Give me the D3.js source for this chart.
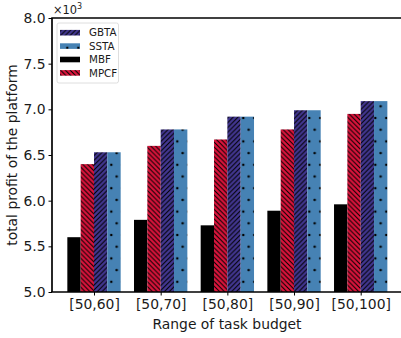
<!DOCTYPE html>
<html>
<head>
<meta charset="utf-8">
<script src="https://cdn.jsdelivr.net/npm/d3@7"></script>
<style>
  html, body { margin: 0; padding: 0; background: #fff; overflow: hidden; }
  svg { display: block; font-family: "DejaVu Sans", sans-serif; }
</style>
</head>
<body>
<svg id="chart" width="401" height="338"></svg>
<script>
// categories and series (values in units of 10^3)
const budgets = ['[50,60]', '[50,70]', '[50,80]', '[50,90]', '[50,100]'];
const mbf = [5.60, 5.79, 5.73, 5.89, 5.96];
const mpcf = [6.40, 6.60, 6.67, 6.78, 6.95];
const gbta = [6.53, 6.78, 6.92, 6.99, 7.09];
const ssta = [6.53, 6.78, 6.92, 6.99, 7.09];
const yTicks = [5.0, 5.5, 6.0, 6.5, 7.0, 7.5, 8.0];

const series = [
    {name: 'MBF', values: mbf, fill: '#000000', pattern: null},
    {name: 'MPCF', values: mpcf, fill: '#dc143c', pattern: 'back'},
    {name: 'GBTA', values: gbta, fill: '#433792', pattern: 'fwd'},
    {name: 'SSTA', values: ssta, fill: '#4682b4', pattern: 'dots'}
];
const legendOrder = ['GBTA', 'SSTA', 'MBF', 'MPCF'];

const svg = d3.select('#chart');
const barW = 0.2;

// plot area ends right at the window edge
const x = d3.scaleLinear().domain([-0.63, 4.63]).range([52, 402.7]);
const y = d3.scaleLinear().domain([5, 8]).range([292, 18]);

// hatch patterns
const defs = svg.append('defs');
const p = 4.8;
function linePattern(id, bg, dir) {
    const pat = defs.append('pattern').attr('id', id)
        .attr('patternUnits', 'userSpaceOnUse').attr('width', p).attr('height', p);
    pat.append('rect').attr('width', p).attr('height', p).attr('fill', bg);
    const d = dir === 'fwd'
        ? `M0,${p} L${p},0 M${-p / 2},${p / 2} L${p / 2},${-p / 2} M${p / 2},${p * 1.5} L${p * 1.5},${p / 2}`
        : `M0,0 L${p},${p} M${-p / 2},${p / 2} L${p / 2},${p * 1.5} M${p / 2},${-p / 2} L${p * 1.5},${p / 2}`;
    pat.append('path').attr('d', d).attr('stroke', '#000').attr('stroke-width', 1.05);
}
linePattern('hatch-back', '#dc143c', 'back');
linePattern('hatch-fwd', '#433792', 'fwd');
const dots = defs.append('pattern').attr('id', 'hatch-dots')
    .attr('patternUnits', 'userSpaceOnUse').attr('width', 11).attr('height', 23.4)
    .attr('x', 1.3).attr('y', 1);
dots.append('rect').attr('width', 11).attr('height', 23.4).attr('fill', '#4682b4');
[[0, 0], [11, 0], [0, 23.4], [11, 23.4], [5.4, 11.7]].forEach(([cx, cy]) => {
    dots.append('circle').attr('cx', cx).attr('cy', cy).attr('r', 1.25).attr('fill', '#000');
});

function fillOf(s) {
    if (s.pattern === 'back') return 'url(#hatch-back)';
    if (s.pattern === 'fwd') return 'url(#hatch-fwd)';
    if (s.pattern === 'dots') return 'url(#hatch-dots)';
    return s.fill;
}

// bars
series.forEach((s, j) => {
    svg.append('g').selectAll('rect')
        .data(s.values)
        .join('rect')
        .attr('x', (v, i) => x(i + (j - 2) * barW))
        .attr('width', x(barW) - x(0))
        .attr('y', (v) => y(v))
        .attr('height', (v) => y(5) - y(v))
        .attr('fill', fillOf(s));
});

// axes
const yAxis = d3.axisLeft(y).tickValues(yTicks).tickFormat(d3.format('.1f'))
    .tickSize(3.5).tickPadding(3);
const gy = svg.append('g').attr('transform', 'translate(52,0)').call(yAxis);
const xAxis = d3.axisBottom(x).tickValues(d3.range(budgets.length))
    .tickFormat((i) => budgets[i]).tickSize(3.5).tickPadding(3.5);
const gx = svg.append('g').attr('transform', 'translate(0,292)').call(xAxis);
[gx, gy].forEach((g) => {
    g.selectAll('text').attr('font-size', 13.9).attr('fill', '#1a1a1a')
        .attr('font-family', '"DejaVu Sans", sans-serif');
    g.selectAll('line').attr('stroke', '#000').attr('stroke-width', 1);
    g.select('.domain').remove();
});

// spines
svg.append('line').attr('x1', 52).attr('x2', 52).attr('y1', 18).attr('y2', 292)
    .attr('stroke', '#000').attr('stroke-width', 1.7);
svg.append('line').attr('x1', 51.2).attr('x2', 402.7).attr('y1', 292).attr('y2', 292)
    .attr('stroke', '#000').attr('stroke-width', 1.7);
svg.append('line').attr('x1', 51.2).attr('x2', 402.7).attr('y1', 18).attr('y2', 18)
    .attr('stroke', '#000').attr('stroke-width', 1.7);

// offset text
const off = svg.append('text').attr('x', 53).attr('y', 13.5)
    .attr('font-size', 11.4).attr('fill', '#1a1a1a');
off.append('tspan').text('\u00d710');
off.append('tspan').attr('font-size', 8).attr('dy', -4.5).text('3');

// axis titles
svg.append('text').attr('x', 227).attr('y', 328.5).attr('text-anchor', 'middle')
    .attr('font-size', 13.9).attr('fill', '#1a1a1a').text('Range of task budget');
svg.append('text').attr('transform', 'translate(16.5,155) rotate(-90)')
    .attr('text-anchor', 'middle').attr('font-size', 13.9).attr('fill', '#1a1a1a')
    .text('total profit of the platform');

// legend
const lg = svg.append('g');
lg.append('rect').attr('x', 57).attr('y', 23).attr('width', 61.5).attr('height', 60)
    .attr('rx', 2).attr('fill', '#fff').attr('fill-opacity', 0.8)
    .attr('stroke', '#d6d6d6').attr('stroke-width', 0.8);
legendOrder.forEach((name, k) => {
    const s = series.find((d) => d.name === name);
    const cy = 32.7 + k * 13.4;
    lg.append('rect').attr('x', 60).attr('y', cy - 2.8).attr('width', 20).attr('height', 5.6)
        .attr('fill', fillOf(s));
    lg.append('text').attr('x', 89).attr('y', cy + 3.7).attr('font-size', 10.3)
        .attr('fill', '#1a1a1a').text(name);
});
</script>
</body>
</html>
